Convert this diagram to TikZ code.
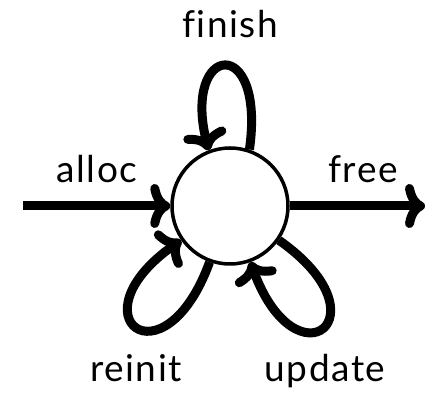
\documentclass[tikz,border=0pt]{standalone}
\usepackage{fontspec}
\setmainfont{Lato}[Ligatures=NoCommon,LetterSpace=4]
\usetikzlibrary{arrows.meta}
\begin{document}
\begin{tikzpicture}[x=1pt,y=1pt,
  edge/.style={line width=9pt,-{To[length=20pt,width=44pt]}},
  lbl/.style={anchor=base,inner sep=0pt,font=\fontsize{37}{44}\selectfont},
  state/.style={circle,draw,line width=3.5pt,minimum size=116pt,inner sep=0pt}]
\useasboundingbox (0,0) rectangle (426,398);
\node[state] (c) at (230,192) {};
\coordinate (in) at (23,192);
\coordinate (out) at (425,192);
\draw[edge] (in) -- (c.west);
\draw[edge] (c.east) -- (out);
\draw[edge] (c.71) .. controls +(82:118) and +(104:110) .. (c.111);
\draw[edge] (c.250) .. controls +(250:134) and +(215:134) .. (c.215);
\draw[edge] (c.325) .. controls +(325:134) and +(290:134) .. (c.290);
\node[lbl] (lf) at (230,360) {finish};
\node[lbl] (la) at (97,215) {alloc};
\node[lbl] (lr) at (363,215) {free};
\node[lbl] (lri) at (136,16) {reinit};
\node[lbl] (lu) at (325,16) {update};
\end{tikzpicture}
\end{document}
